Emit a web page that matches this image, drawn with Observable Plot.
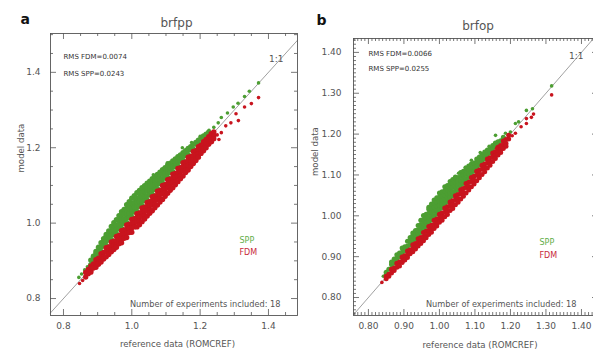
<!DOCTYPE html>
<html>
<head>
<meta charset="utf-8">
<script src="https://cdn.jsdelivr.net/npm/d3@7"></script>
<script src="https://cdn.jsdelivr.net/npm/@observablehq/plot@0.6"></script>
<style>
  html, body { margin: 0; padding: 0; background: #fff; }
  #wrap { position: relative; width: 593px; height: 351px; overflow: hidden; background: #fff; }
  #wrap svg { position: absolute; top: 0; }
</style>
</head>
<body>
<div id="wrap"></div>
<script>
// ---------- Panel a : brfpp ----------
// columns: [reference value, model values read at that reference value ...]
const aSppCols = [
  [0.880, 0.890, 0.902], [0.8875, 0.904, 0.912],
  [0.895, 0.907, 0.919, 0.925], [0.9025, 0.913, 0.925, 0.936],
  [0.910, 0.924, 0.936, 0.948], [0.9175, 0.940, 0.952, 0.959],
  [0.925, 0.941, 0.953, 0.965, 0.970], [0.9325, 0.955, 0.967, 0.979],
  [0.940, 0.956, 0.968, 0.980, 0.991], [0.9475, 0.970, 0.982, 0.994, 1.001],
  [0.955, 0.971, 0.983, 0.995, 1.009], [0.9625, 0.985, 0.997, 1.009, 1.020],
  [0.970, 0.986, 0.998, 1.010, 1.022, 1.030], [0.9775, 1.000, 1.012, 1.024, 1.036],
  [0.985, 1.001, 1.013, 1.025, 1.037, 1.049], [0.9925, 1.015, 1.027, 1.039, 1.051, 1.057],
  [1.000, 1.016, 1.028, 1.040, 1.052, 1.066], [1.0075, 1.030, 1.042, 1.054, 1.066, 1.073],
  [1.015, 1.031, 1.043, 1.055, 1.067, 1.081], [1.0225, 1.045, 1.057, 1.069, 1.081, 1.087],
  [1.030, 1.046, 1.058, 1.070, 1.082, 1.094], [1.0375, 1.060, 1.072, 1.084, 1.096, 1.099],
  [1.045, 1.061, 1.073, 1.085, 1.097, 1.106], [1.0525, 1.075, 1.087, 1.099, 1.111],
  [1.060, 1.076, 1.088, 1.100, 1.112, 1.118], [1.0675, 1.090, 1.102, 1.114, 1.124],
  [1.075, 1.091, 1.103, 1.115, 1.129], [1.0825, 1.105, 1.117, 1.129, 1.135],
  [1.090, 1.106, 1.118, 1.130, 1.142], [1.0975, 1.120, 1.132, 1.144, 1.147],
  [1.105, 1.121, 1.133, 1.145, 1.154], [1.1125, 1.135, 1.147, 1.159],
  [1.120, 1.136, 1.148, 1.160, 1.165], [1.1275, 1.150, 1.162, 1.170],
  [1.135, 1.151, 1.163, 1.176], [1.1425, 1.165, 1.177, 1.181],
  [1.150, 1.166, 1.178, 1.187], [1.1575, 1.180, 1.192],
  [1.165, 1.181, 1.193, 1.198], [1.1725, 1.195, 1.203],
  [1.180, 1.196, 1.209], [1.1875, 1.210, 1.214],
  [1.195, 1.211, 1.220], [1.2025, 1.225],
  [1.210, 1.226, 1.231], [1.2175, 1.236],
  [1.225, 1.241]
];
const aSppExtra = [
  [0.845, 0.856], [0.853, 0.865], [0.862, 0.876], [0.870, 0.884],
  [1.063, 1.128], [1.104, 1.160], [1.135, 1.172], [1.148, 1.200],
  [1.175, 1.214], [1.200, 1.230], [1.226, 1.246], [1.240, 1.254],
  [1.253, 1.266], [1.262, 1.280], [1.280, 1.292], [1.297, 1.308],
  [1.311, 1.318], [1.330, 1.336], [1.344, 1.350], [1.371, 1.372]
];
const aFdmCols = [
  [0.865, 0.869, 0.857], [0.8725, 0.877, 0.866],
  [0.880, 0.886, 0.874, 0.870], [0.8875, 0.892, 0.881],
  [0.895, 0.903, 0.892, 0.883], [0.9025, 0.907, 0.896, 0.891],
  [0.910, 0.919, 0.908, 0.897], [0.9175, 0.922, 0.911, 0.905],
  [0.925, 0.935, 0.924, 0.911], [0.9325, 0.937, 0.926, 0.917],
  [0.940, 0.950, 0.939, 0.928, 0.924], [0.9475, 0.952, 0.941, 0.930],
  [0.955, 0.965, 0.954, 0.943, 0.936], [0.9625, 0.967, 0.956, 0.945],
  [0.970, 0.980, 0.969, 0.958, 0.948], [0.9775, 0.982, 0.971, 0.960],
  [0.985, 0.995, 0.984, 0.973, 0.962], [0.9925, 0.997, 0.986, 0.975],
  [1.000, 1.010, 0.999, 0.988, 0.976], [1.0075, 1.012, 1.001, 0.990],
  [1.015, 1.025, 1.014, 1.003, 0.990], [1.0225, 1.027, 1.016, 1.005, 0.996],
  [1.030, 1.040, 1.029, 1.018, 1.004], [1.0375, 1.042, 1.031, 1.020, 1.011],
  [1.045, 1.055, 1.044, 1.033, 1.019], [1.0525, 1.057, 1.046, 1.035, 1.026],
  [1.060, 1.070, 1.059, 1.048, 1.033], [1.0675, 1.072, 1.061, 1.050, 1.041],
  [1.075, 1.085, 1.074, 1.063, 1.048], [1.0825, 1.087, 1.076, 1.065, 1.056],
  [1.090, 1.100, 1.089, 1.078, 1.063], [1.0975, 1.102, 1.091, 1.080, 1.071],
  [1.105, 1.115, 1.104, 1.093, 1.079], [1.1125, 1.117, 1.106, 1.095, 1.087],
  [1.120, 1.130, 1.119, 1.108, 1.094], [1.1275, 1.132, 1.121, 1.110, 1.102],
  [1.135, 1.145, 1.134, 1.123, 1.110], [1.1425, 1.147, 1.136, 1.125, 1.118],
  [1.150, 1.160, 1.149, 1.138, 1.125], [1.1575, 1.162, 1.151, 1.140, 1.134],
  [1.165, 1.175, 1.164, 1.153, 1.141], [1.1725, 1.177, 1.166, 1.155, 1.150],
  [1.180, 1.190, 1.179, 1.168, 1.158], [1.1875, 1.192, 1.181, 1.170, 1.166],
  [1.195, 1.203, 1.194, 1.183, 1.175], [1.2025, 1.207, 1.196, 1.185],
  [1.210, 1.216, 1.208, 1.198, 1.192], [1.2175, 1.222, 1.211, 1.200],
  [1.225, 1.229, 1.220, 1.209], [1.2325, 1.237, 1.226, 1.216],
  [1.240, 1.242, 1.232, 1.224]
];
const aFdmExtra = [
  [0.847, 0.840], [0.856, 0.848], [1.236, 1.215], [1.255, 1.222],
  [1.250, 1.234], [1.262, 1.240], [1.275, 1.258], [1.290, 1.266],
  [1.305, 1.290], [1.312, 1.272], [1.330, 1.308], [1.350, 1.317],
  [1.371, 1.333]
];
const aTickLabels = [0.8, 1.0, 1.2, 1.4];

// ---------- Panel b : brfop ----------
const bSppCols = [
  [0.850, 0.856, 0.862], [0.8575, 0.869],
  [0.865, 0.871, 0.881, 0.887], [0.8725, 0.884, 0.894],
  [0.880, 0.886, 0.896, 0.905], [0.8875, 0.899, 0.909],
  [0.895, 0.901, 0.911, 0.921], [0.9025, 0.914, 0.924],
  [0.910, 0.916, 0.926, 0.938], [0.9175, 0.929, 0.939, 0.947],
  [0.925, 0.931, 0.941, 0.951, 0.958], [0.9325, 0.944, 0.954, 0.964],
  [0.940, 0.946, 0.956, 0.966, 0.976], [0.9475, 0.959, 0.969, 0.979, 0.989],
  [0.955, 0.961, 0.971, 0.981, 0.991, 1.001], [0.9625, 0.974, 0.984, 0.994, 1.004],
  [0.970, 0.976, 0.986, 0.996, 1.006, 1.016, 1.021], [0.9775, 0.989, 0.999, 1.009, 1.019, 1.029],
  [0.985, 0.991, 1.001, 1.011, 1.021, 1.031, 1.039], [0.9925, 1.004, 1.014, 1.024, 1.034, 1.044],
  [1.000, 1.006, 1.016, 1.026, 1.036, 1.046, 1.056], [1.0075, 1.019, 1.029, 1.039, 1.049, 1.059],
  [1.015, 1.021, 1.031, 1.041, 1.051, 1.061, 1.071], [1.0225, 1.034, 1.044, 1.054, 1.064, 1.074],
  [1.030, 1.036, 1.046, 1.056, 1.066, 1.076, 1.084], [1.0375, 1.049, 1.059, 1.069, 1.079, 1.089],
  [1.045, 1.051, 1.061, 1.071, 1.081, 1.091, 1.095], [1.0525, 1.064, 1.074, 1.084, 1.094],
  [1.060, 1.066, 1.076, 1.086, 1.096, 1.106], [1.0675, 1.079, 1.089, 1.099, 1.109],
  [1.075, 1.081, 1.091, 1.101, 1.111, 1.117], [1.0825, 1.094, 1.104, 1.114, 1.122],
  [1.090, 1.096, 1.106, 1.116, 1.127], [1.0975, 1.109, 1.119, 1.129],
  [1.105, 1.111, 1.121, 1.131, 1.139], [1.1125, 1.124, 1.134, 1.144],
  [1.120, 1.126, 1.136, 1.146, 1.150], [1.1275, 1.139, 1.149, 1.156],
  [1.135, 1.141, 1.151, 1.161], [1.1425, 1.154, 1.164],
  [1.150, 1.156, 1.166, 1.172], [1.1575, 1.169, 1.178],
  [1.165, 1.171, 1.181], [1.1725, 1.184],
  [1.180, 1.186, 1.192]
];
const bSppExtra = [
  [0.842, 0.852], [1.045, 1.094], [1.054, 1.104], [1.073, 1.119],
  [1.090, 1.136], [1.115, 1.155], [1.140, 1.170], [1.158, 1.197],
  [1.166, 1.177], [1.186, 1.202], [1.200, 1.205], [1.214, 1.226],
  [1.223, 1.230], [1.245, 1.258], [1.262, 1.262], [1.316, 1.318]
];
const bFdmCols = [
  [0.850, 0.852, 0.846], [0.8575, 0.857, 0.852],
  [0.865, 0.869, 0.860], [0.8725, 0.872, 0.866],
  [0.880, 0.884, 0.874], [0.8875, 0.887, 0.877],
  [0.895, 0.899, 0.889, 0.886], [0.9025, 0.902, 0.892],
  [0.910, 0.914, 0.904, 0.898], [0.9175, 0.917, 0.907],
  [0.925, 0.929, 0.919, 0.912], [0.9325, 0.932, 0.922, 0.919],
  [0.940, 0.944, 0.934, 0.926], [0.9475, 0.947, 0.937, 0.932],
  [0.955, 0.959, 0.949, 0.939], [0.9625, 0.962, 0.952, 0.946],
  [0.970, 0.974, 0.964, 0.954], [0.9775, 0.977, 0.967, 0.960],
  [0.985, 0.989, 0.979, 0.969], [0.9925, 0.992, 0.982, 0.975],
  [1.000, 1.004, 0.994, 0.984], [1.0075, 1.007, 0.997, 0.989],
  [1.015, 1.019, 1.009, 0.998], [1.0225, 1.022, 1.012, 1.003],
  [1.030, 1.034, 1.024, 1.013], [1.0375, 1.037, 1.027, 1.018],
  [1.045, 1.049, 1.039, 1.027], [1.0525, 1.052, 1.042, 1.033],
  [1.060, 1.064, 1.054, 1.041], [1.0675, 1.067, 1.057, 1.048],
  [1.075, 1.079, 1.069, 1.056], [1.0825, 1.082, 1.072, 1.063],
  [1.090, 1.094, 1.084, 1.071], [1.0975, 1.097, 1.087, 1.078],
  [1.105, 1.109, 1.099, 1.086], [1.1125, 1.112, 1.102, 1.093],
  [1.120, 1.124, 1.114, 1.101], [1.1275, 1.127, 1.117, 1.108],
  [1.135, 1.139, 1.129, 1.117], [1.1425, 1.142, 1.132, 1.124],
  [1.150, 1.154, 1.144, 1.133], [1.1575, 1.157, 1.147, 1.140],
  [1.165, 1.168, 1.159, 1.149], [1.1725, 1.172, 1.162, 1.155],
  [1.180, 1.183, 1.174, 1.165], [1.1875, 1.187, 1.177, 1.170],
  [1.195, 1.197, 1.188]
];
const bFdmExtra = [
  [0.838, 0.837], [1.161, 1.165], [1.186, 1.172], [1.205, 1.196],
  [1.214, 1.202], [1.230, 1.218], [1.245, 1.226], [1.245, 1.238],
  [1.259, 1.241], [1.265, 1.249], [1.316, 1.296]
];
const bTickLabels = [0.80, 0.90, 1.00, 1.10, 1.20, 1.30, 1.40];

const GREEN = "#4c9e32";
const RED = "#c8141e";
const INK = "#555";

function toPoints(cols) {
  return cols.flatMap(([ref, ...ms]) => ms.map(m => ({ref, model: m})));
}
function toPointsXY(arr) {
  return arr.map(([ref, model]) => ({ref, model}));
}

function panel(o) {
  const fw = o.width - o.ml - o.mr;
  const fh = o.height - o.mt - o.mb;
  const inX = v => v >= o.xd[0] && v <= o.xd[1];
  const inY = v => v >= o.yd[0] && v <= o.yd[1];
  const isMajor = v => o.major.some(m => Math.abs(m - v) < 1e-6);
  const minorOnly = o.minor.filter(v => !isMajor(v));
  const lo = Math.max(o.xd[0], o.yd[0]), hi = Math.min(o.xd[1], o.yd[1]);
  const diag = [lo, hi];
  const ticksX = (vals, len) => [
    Plot.tickX(vals.filter(inX), {x: d => d, insetTop: fh - len, stroke: INK, strokeWidth: 0.8}),
    Plot.tickX(vals.filter(inX), {x: d => d, insetBottom: fh - len, stroke: INK, strokeWidth: 0.8})
  ];
  const ticksY = (vals, len) => [
    Plot.tickY(vals.filter(inY), {y: d => d, insetRight: fw - len, stroke: INK, strokeWidth: 0.8}),
    Plot.tickY(vals.filter(inY), {y: d => d, insetLeft: fw - len, stroke: INK, strokeWidth: 0.8})
  ];
  const t = o.text;
  return Plot.plot({
    width: o.width, height: o.height,
    marginLeft: o.ml, marginRight: o.mr, marginTop: o.mt, marginBottom: o.mb,
    x: {domain: o.xd, axis: null},
    y: {domain: o.yd, axis: null},
    style: {fontFamily: "DejaVu Sans, sans-serif", color: INK, background: "transparent"},
    marks: [
      Plot.line(diag, {x: d => d, y: d => d, stroke: "#888", strokeWidth: 0.8}),
      Plot.dot(toPoints(o.sppCols), {x: "ref", y: "model", r: o.rBand, fill: GREEN}),
      Plot.dot(toPointsXY(o.sppExtra), {x: "ref", y: "model", r: o.rDot, fill: GREEN}),
      Plot.dot(toPoints(o.fdmCols), {x: "ref", y: "model", r: o.rBand, fill: RED}),
      Plot.dot(toPointsXY(o.fdmExtra), {x: "ref", y: "model", r: o.rDot, fill: RED}),
      Plot.frame({stroke: INK, strokeWidth: 0.9}),
      ...ticksX(minorOnly, o.minLen),
      ...ticksY(minorOnly, o.minLen),
      ...ticksX(o.major, o.majLen),
      ...ticksY(o.major, o.majLen),
      Plot.text(o.labels.filter(inX), {x: d => d, text: o.fmt, frameAnchor: "bottom", dy: 13, fontSize: o.tickFont, fill: INK}),
      Plot.text(o.labels.filter(inY), {y: d => d, text: o.fmt, frameAnchor: "left", dx: t.ytdx, textAnchor: "end", fontSize: o.tickFont, fill: INK}),
      Plot.text([o.letter], {text: d => d, frameAnchor: "top-left", dx: t.letter[0], dy: t.letter[1], fontSize: 14, fontWeight: "bold", fill: "#111"}),
      Plot.text([o.title], {text: d => d, frameAnchor: "top", dx: t.title[0], dy: t.title[1], fontSize: 12, fill: INK}),
      Plot.text([o.rms1], {text: d => d, frameAnchor: "top-left", textAnchor: "start", dx: t.rms[0], dy: t.rms[1], fontSize: 7, fill: "#333"}),
      Plot.text([o.rms2], {text: d => d, frameAnchor: "top-left", textAnchor: "start", dx: t.rms[0], dy: t.rms[2], fontSize: 7, fill: "#333"}),
      Plot.text(["1:1"], {text: d => d, frameAnchor: "top-right", textAnchor: "end", dx: t.one[0], dy: t.one[1], fontSize: 9, fill: INK}),
      Plot.text(["SPP"], {text: d => d, frameAnchor: "top-left", dx: t.leg[0], dy: t.leg[1], fontSize: 8, fill: "#5fae4a"}),
      Plot.text(["FDM"], {text: d => d, frameAnchor: "top-left", dx: t.leg[0], dy: t.leg[2], fontSize: 8, fill: "#c8283a"}),
      Plot.text([o.count], {text: d => d, frameAnchor: "bottom-right", textAnchor: "end", dx: t.count[0], dy: t.count[1], fontSize: 8.2, fill: INK}),
      Plot.text(["reference data (ROMCREF)"], {text: d => d, frameAnchor: "bottom", dx: t.xl[0], dy: t.xl[1], fontSize: 8.6, fill: INK}),
      Plot.text(["model data"], {text: d => d, frameAnchor: "left", dx: t.yl[0], dy: t.yl[1], rotate: -90, fontSize: 8.6, fill: INK})
    ]
  });
}

const wrap = document.getElementById("wrap");

const svgA = panel({
  width: 300, height: 351, ml: 50, mr: 3, mt: 33, mb: 36,
  xd: [0.762, 1.485], yd: [0.755, 1.503],
  minor: d3.range(15, 31).map(i => i * 0.05),
  major: aTickLabels,
  labels: aTickLabels, fmt: d3.format(".1f"),
  minLen: 3, majLen: 6, tickFont: 9,
  sppCols: aSppCols, sppExtra: aSppExtra, fdmCols: aFdmCols, fdmExtra: aFdmExtra,
  rBand: 2.7, rDot: 1.8,
  letter: "a", title: "brfpp",
  rms1: "RMS FDM=0.0074", rms2: "RMS SPP=0.0243",
  count: "Number of experiments included: 18",
  text: {
    ytdx: -10, letter: [-30, -19], title: [2.5, -15], rms: [13, 21, 38],
    one: [-14, 22], leg: [189, 204, 216], count: [-17, -9], xl: [3.5, 31], yl: [-29, -2]
  }
});
svgA.style.left = "0px";
wrap.appendChild(svgA);

const svgB = panel({
  width: 300, height: 351, ml: 53, mr: 2, mt: 38, mb: 36,
  xd: [0.758, 1.448], yd: [0.756, 1.434],
  minor: d3.range(75, 146).map(i => i / 100),
  major: d3.range(8, 15).map(i => i / 10),
  labels: bTickLabels, fmt: d3.format(".2f"),
  minLen: 3, majLen: 6, tickFont: 9,
  sppCols: bSppCols, sppExtra: bSppExtra, fdmCols: bFdmCols, fdmExtra: bFdmExtra,
  rBand: 2.5, rDot: 1.8,
  letter: "b", title: "brfop",
  rms1: "RMS FDM=0.0066", rms2: "RMS SPP=0.0255",
  count: "Number of experiments included: 18",
  text: {
    ytdx: -12, letter: [-37, -23], title: [2, -17], rms: [15, 13, 28],
    one: [-15, 14], leg: [186, 201, 214], count: [-22, -9], xl: [4, 32], yl: [-38, -1]
  }
});
svgB.style.left = "300px";
wrap.appendChild(svgB);
</script>
</body>
</html>
